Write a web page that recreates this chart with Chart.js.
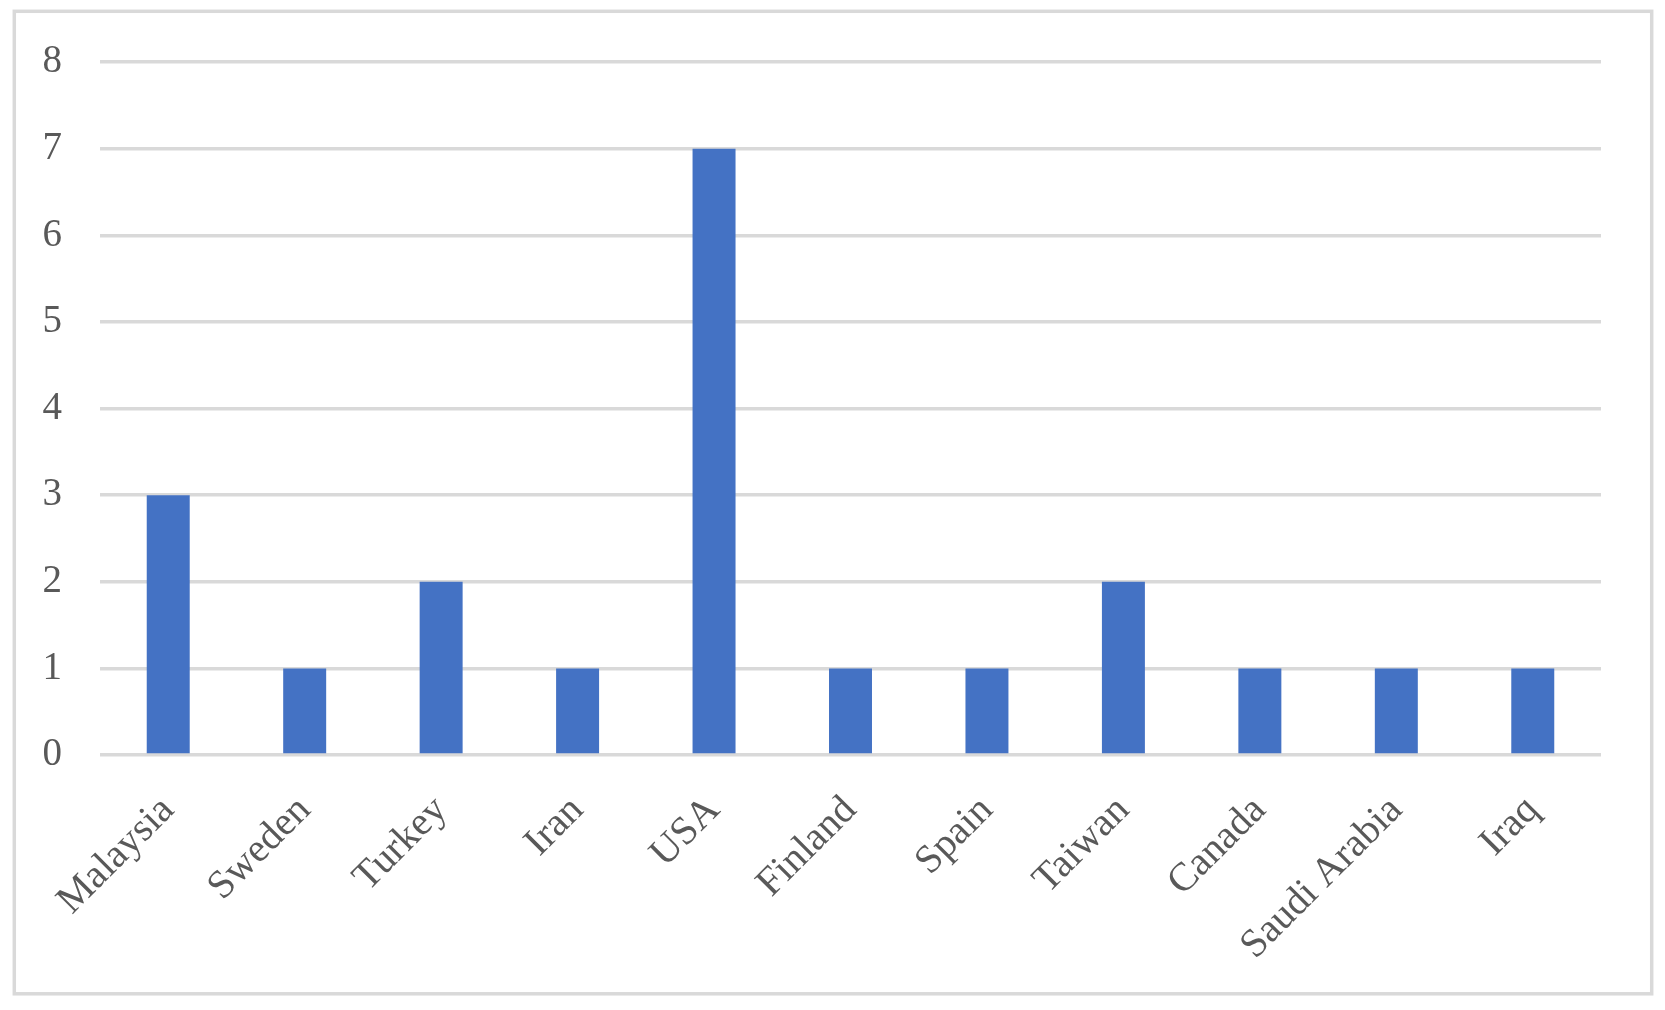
<!DOCTYPE html>
<html>
<head>
<meta charset="utf-8">
<script src="https://cdn.jsdelivr.net/npm/chart.js@4.4.1/dist/chart.umd.min.js"></script>
<style>
  html, body { margin: 0; padding: 0; background: #ffffff; }
  #wrap { position: relative; width: 1665px; height: 1010px; }
  canvas { display: block; }
</style>
</head>
<body>
<div id="wrap"><canvas id="c" width="1665" height="1010"></canvas></div>
<script>
const categories = ["Malaysia", "Sweden", "Turkey", "Iran", "USA", "Finland", "Spain", "Taiwan", "Canada", "Saudi Arabia", "Iraq"];
const counts = [3, 1, 2, 1, 7, 1, 1, 2, 1, 1, 1];
const yTicks = [0, 1, 2, 3, 4, 5, 6, 7, 8];

const borderPlugin = {
  id: 'outerBorder',
  beforeDraw(chart) {
    const ctx = chart.ctx;
    ctx.save();
    ctx.fillStyle = '#ffffff';
    ctx.fillRect(0, 0, chart.width, chart.height);
    ctx.strokeStyle = '#d9d9d9';
    ctx.lineWidth = 3.5;
    ctx.strokeRect(14.3, 11.3, 1637.4, 982.5);
    ctx.restore();
  }
};

new Chart(document.getElementById('c'), {
  type: 'bar',
  data: {
    labels: categories,
    datasets: [{
      data: counts,
      backgroundColor: '#4472c4',
      borderWidth: 0,
      categoryPercentage: 1.0,
      barPercentage: 0.315
    }]
  },
  options: {
    responsive: false,
    animation: false,
    events: [],
    layout: { padding: { left: 0, right: 64, top: 62, bottom: 0 } },
    plugins: { legend: { display: false }, tooltip: { enabled: false } },
    scales: {
      x: {
        offset: true,
        grid: { display: false, drawTicks: false },
        border: { display: false },
        ticks: {
          minRotation: 45,
          maxRotation: 45,
          autoSkip: false,
          padding: 32,
          color: '#595959',
          font: { family: '"Liberation Serif", "Times New Roman", serif', size: 40 }
        },
        afterFit(scale) { scale.height = 255; }
      },
      y: {
        min: 0,
        max: 8,
        afterBuildTicks(scale) { scale.ticks = yTicks.map(v => ({ value: v })); },
        grid: { color: '#d9d9d9', lineWidth: 3.5, drawTicks: false },
        border: { display: false },
        ticks: {
          padding: 38,
          color: '#595959',
          font: { family: '"Liberation Serif", "Times New Roman", serif', size: 39 }
        },
        afterFit(scale) { scale.width = 100; }
      }
    }
  },
  plugins: [borderPlugin]
});
</script>
</body>
</html>
